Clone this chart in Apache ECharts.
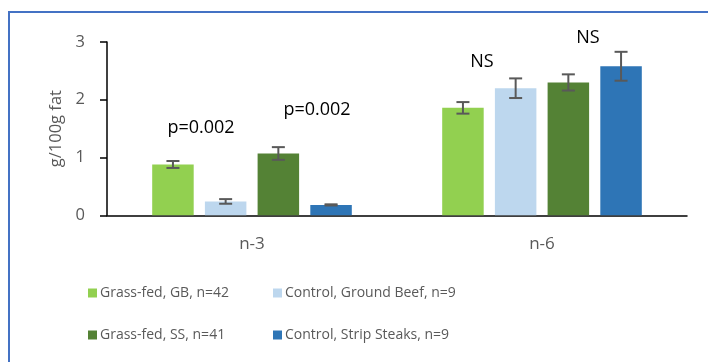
<!DOCTYPE html>
<html>
<head>
<meta charset="utf-8">
<script src="https://cdn.jsdelivr.net/npm/echarts@6/dist/echarts.min.js"></script>
<style>
html,body{margin:0;padding:0;background:#fff;}
#chart{width:708px;height:362px;}
</style>
</head>
<body>
<div id="chart"></div>
<script>
// ---- data ----
const categories = ['n-3', 'n-6'];
const seriesNames = ['Grass-fed, GB, n=42', 'Control, Ground Beef, n=9', 'Grass-fed, SS, n=41', 'Control, Strip Steaks, n=9'];
const gfGB   = [0.88, 1.86];
const ctlGB  = [0.24, 2.20];
const gfSS   = [1.07, 2.30];
const ctlSS  = [0.18, 2.58];
const errGfGB  = [0.06, 0.10];
const errCtlGB = [0.04, 0.17];
const errGfSS  = [0.11, 0.14];
const errCtlSS = [0.01, 0.25];
const yTicks = [0, 1, 2, 3];
const annotations = [
  // [categoryIndex, yValue, text, pixel offset from category centre]
  [0, 1.51, 'p=0.002', -51],
  [0, 1.82, 'p=0.002', 65],
  [1, 2.65, 'NS', -60],
  [1, 3.07, 'NS', 46]
];

// ---- styles ----
const colors = ['#92d050', '#bdd7ee', '#548235', '#2e75b6'];
const FONT = 'Open Sans';
const BAR_W = 41.5;
const BAR_GAP = 0.27;
const legendPos = [[88, 286], [273, 286], [88, 328], [273, 328]];

const values = [gfGB, ctlGB, gfSS, ctlSS];
const errs = [errGfGB, errCtlGB, errGfSS, errCtlSS];

const errData = [];
values.forEach((vals, s) => vals.forEach((v, c) => errData.push([c, v, errs[s][c], s])));

const chart = echarts.init(document.getElementById('chart'), null, {renderer: 'canvas'});

const barSeries = seriesNames.map((name, i) => ({
  name: name,
  type: 'bar',
  data: values[i],
  barWidth: BAR_W,
  barGap: (BAR_GAP * 100) + '%',
  itemStyle: {color: colors[i]},
  z: 2
}));

const legends = seriesNames.map((name, i) => ({
  data: [name],
  left: legendPos[i][0], top: legendPos[i][1],
  padding: 0,
  icon: 'rect', itemWidth: 9, itemHeight: 9, itemGap: 0,
  textStyle: {fontFamily: FONT, fontSize: 14, color: '#595959', padding: [0, 0, 0, -2]}
}));

chart.setOption({
  backgroundColor: '#ffffff',
  animation: false,
  grid: {left: 107, right: 21, top: 42, bottom: 146.7, containLabel: false},
  graphic: [{
    type: 'rect',
    shape: {x: 9, y: 12, width: 800, height: 500},
    style: {fill: null, stroke: '#4472c4', lineWidth: 2},
    silent: true
  }],
  legend: legends,
  xAxis: {
    type: 'category',
    data: categories,
    axisLine: {show: true, lineStyle: {color: '#000', width: 1.5}},
    axisTick: {show: false},
    axisLabel: {fontFamily: FONT, fontSize: 17, color: '#595959', margin: 20}
  },
  yAxis: {
    type: 'value',
    min: yTicks[0], max: yTicks[yTicks.length - 1], interval: 1,
    name: 'g/100g fat',
    nameLocation: 'middle',
    nameGap: 42,
    nameTextStyle: {fontFamily: FONT, fontSize: 16.5, color: '#595959'},
    axisLine: {show: true, lineStyle: {color: '#000', width: 1.5}},
    axisTick: {show: true, length: 7, lineStyle: {color: '#000', width: 1.5}},
    axisLabel: {fontFamily: FONT, fontSize: 16.5, color: '#595959', margin: 22},
    splitLine: {show: false}
  },
  series: barSeries.concat([{
    type: 'custom',
    name: 'err',
    data: errData,
    z: 5,
    clip: false,
    renderItem: function (params, api) {
      const c = api.value(0), v = api.value(1), e = api.value(2), s = api.value(3);
      const step = BAR_W * (1 + BAR_GAP);
      const center = api.coord([c, 0])[0];
      const x = center + (s - 1.5) * step;
      const top = api.coord([c, v + e])[1];
      const bot = api.coord([c, v - e])[1];
      const hw = 6.5;
      const st = {stroke: '#595959', lineWidth: 2};
      return {type: 'group', children: [
        {type: 'line', shape: {x1: x, y1: top, x2: x, y2: bot}, style: st},
        {type: 'line', shape: {x1: x - hw, y1: top, x2: x + hw, y2: top}, style: st},
        {type: 'line', shape: {x1: x - hw, y1: bot, x2: x + hw, y2: bot}, style: st}
      ]};
    }
  }, {
    type: 'custom',
    name: 'annot',
    data: annotations,
    z: 6,
    clip: false,
    renderItem: function (params, api) {
      const p = api.coord([api.value(0), api.value(1)]);
      const a = annotations[params.dataIndex];
      return {
        type: 'text',
        x: p[0] + a[3], y: p[1],
        style: {text: a[2], fontFamily: FONT, fontSize: 18, fill: '#000', align: 'center', verticalAlign: 'middle'}
      };
    }
  }])
});
</script>
</body>
</html>
